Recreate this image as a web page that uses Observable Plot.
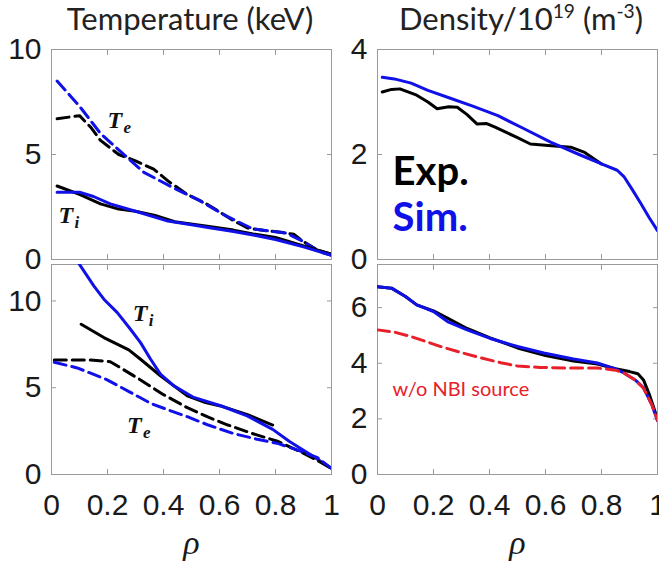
<!DOCTYPE html>
<html><head><meta charset="utf-8">
<script src="https://cdn.jsdelivr.net/npm/d3@7"></script>
<script src="https://cdn.jsdelivr.net/npm/@observablehq/plot@0.6"></script>
<style>
body{margin:0;background:#fff;}
#c{position:relative;width:659px;height:562px;overflow:hidden;background:#fff;}
#c svg{position:absolute;left:0;top:0;}
.title{position:absolute;top:3px;font-family:Lato,sans-serif;font-size:31px;color:#222;text-align:center;line-height:1;white-space:nowrap;width:320px}
.title sup{font-size:0.62em;vertical-align:0.6em;line-height:0}
[aria-label="x-axis label"] text{font-style:italic;font-family:"Liberation Serif",serif;font-size:34px}
</style></head><body><div id="c">
<div class="title" style="left:30px">Temperature (keV)</div>
<div class="title" style="left:361px">Density/10<sup>19</sup> (m<sup>-3</sup>)</div>
</div><script>
// ---- data ----
const xTicks = [0, 0.2, 0.4, 0.6, 0.8, 1];
const tlYTicks = [0, 5, 10];
const trYTicks = [0, 2, 4];
const blYTicks = [0, 5, 10];
const brYTicks = [0, 2, 4, 6];

// top-left: temperature (keV)
const tlTeSimRho = [0.02, 0.1, 0.175, 0.25, 0.33, 0.43, 0.53, 0.62, 0.72, 0.78, 0.84, 0.9, 0.95, 1.0];
const tlTeSimVal = [8.5, 7.3, 6.0, 5.1, 4.15, 3.45, 2.8, 2.1, 1.45, 1.35, 1.25, 0.85, 0.4, 0.2];
const tlTeExpRho = [0.02, 0.1, 0.14, 0.175, 0.24, 0.3, 0.365, 0.42, 0.485, 0.56, 0.65, 0.7, 0.76, 0.82, 0.865, 0.9, 0.95, 1.0];
const tlTeExpVal = [6.7, 6.85, 6.3, 5.67, 5.0, 4.7, 4.3, 3.7, 3.1, 2.6, 1.85, 1.5, 1.38, 1.3, 1.2, 0.85, 0.45, 0.25];
const tlTiExpRho = [0.02, 0.1, 0.175, 0.24, 0.3, 0.37, 0.44, 0.55, 0.65, 0.72, 0.8, 0.9, 1.0];
const tlTiExpVal = [3.5, 3.1, 2.65, 2.4, 2.3, 2.1, 1.8, 1.6, 1.4, 1.22, 1.05, 0.65, 0.25];
const tlTiSimRho = [0.02, 0.1, 0.15, 0.21, 0.3, 0.41, 0.5, 0.57, 0.65, 0.73, 0.8, 0.9, 1.0];
const tlTiSimVal = [3.2, 3.2, 3.0, 2.65, 2.3, 1.85, 1.65, 1.5, 1.33, 1.14, 0.95, 0.6, 0.2];

// top-right: density / 1e19 m^-3
const trSimRho = [0.017, 0.06, 0.12, 0.18, 0.25, 0.34, 0.43, 0.52, 0.62, 0.72, 0.8, 0.856, 0.88, 0.91, 0.94, 0.97, 1.0];
const trSimVal = [3.47, 3.44, 3.36, 3.22, 3.09, 2.92, 2.74, 2.5, 2.23, 2.0, 1.82, 1.7, 1.58, 1.33, 1.07, 0.8, 0.55];
const trExpRho = [0.017, 0.05, 0.08, 0.14, 0.18, 0.213, 0.255, 0.285, 0.32, 0.356, 0.39, 0.42, 0.46, 0.5, 0.546, 0.61, 0.69, 0.74, 0.8];
const trExpVal = [3.19, 3.24, 3.25, 3.13, 3.0, 2.87, 2.91, 2.9, 2.76, 2.58, 2.59, 2.52, 2.42, 2.32, 2.2, 2.17, 2.14, 2.04, 1.82];

// bottom-left: temperature (keV)
const blTiSimRho = [0.092, 0.151, 0.187, 0.235, 0.282, 0.318, 0.354, 0.389, 0.437, 0.508, 0.604, 0.699, 0.79, 0.85, 0.92, 1.0];
const blTiSimVal = [12.3, 10.87, 10.1, 9.33, 8.37, 7.6, 6.64, 5.78, 5.11, 4.44, 3.96, 3.38, 2.6, 1.9, 1.2, 0.35];
const blTiExpRho = [0.106, 0.187, 0.276, 0.318, 0.389, 0.485, 0.55, 0.604, 0.7, 0.79];
const blTiExpVal = [8.66, 7.89, 7.18, 6.64, 5.69, 4.53, 4.15, 3.95, 3.45, 2.85];
const blTeExpRho = [0.01, 0.14, 0.21, 0.318, 0.4, 0.485, 0.56, 0.63, 0.72, 0.81, 0.89, 0.95, 1.0];
const blTeExpVal = [6.6, 6.6, 6.5, 5.45, 4.6, 3.85, 3.3, 2.85, 2.35, 1.9, 1.3, 0.8, 0.35];
const blTeSimRho = [0.01, 0.092, 0.197, 0.28, 0.354, 0.42, 0.485, 0.56, 0.65, 0.73, 0.81, 0.88, 0.95, 1.0];
const blTeSimVal = [6.47, 6.14, 5.47, 4.75, 4.1, 3.7, 3.33, 2.85, 2.36, 2.05, 1.78, 1.4, 0.97, 0.35];

// bottom-right: density / 1e19 m^-3
const brExpRho = [0, 0.05, 0.1, 0.14, 0.2, 0.25, 0.32, 0.4, 0.5, 0.6, 0.7, 0.785, 0.85, 0.9, 0.93, 0.95, 0.97, 0.99, 1.0];
const brExpVal = [6.75, 6.7, 6.4, 6.1, 5.88, 5.62, 5.25, 4.92, 4.55, 4.28, 4.08, 3.97, 3.8, 3.7, 3.62, 3.4, 2.9, 2.3, 2.0];
const brSimRho = [0, 0.05, 0.1, 0.14, 0.2, 0.25, 0.32, 0.4, 0.5, 0.594, 0.7, 0.785, 0.85, 0.88, 0.92, 0.95, 0.98, 1.0];
const brSimVal = [6.75, 6.7, 6.4, 6.1, 5.86, 5.5, 5.2, 4.9, 4.6, 4.37, 4.15, 4.01, 3.8, 3.65, 3.4, 3.12, 2.5, 1.93];
const brNoNbiRho = [0, 0.06, 0.12, 0.226, 0.3, 0.37, 0.44, 0.5, 0.58, 0.667, 0.785, 0.85, 0.88, 0.92, 0.95, 0.98, 1.0];
const brNoNbiVal = [5.2, 5.12, 4.96, 4.6, 4.38, 4.19, 4.02, 3.9, 3.85, 3.83, 3.83, 3.75, 3.65, 3.4, 3.1, 2.5, 1.95];

// annotation anchors (data units)
const tlLabels = [{rho: 0.2, v: 6.24, main: "T", sub: "e"}, {rho: 0.025, v: 1.76, main: "T", sub: "i"}];
const blLabels = [{rho: 0.29, v: 8.84, main: "T", sub: "i"}, {rho: 0.27, v: 2.38, main: "T", sub: "e"}];
const trLegend = [{rho: 0.054, v: 1.41, t: "Exp.", c: "black"}, {rho: 0.054, v: 0.55, t: "Sim.", c: "sim"}];
const brNote = [{rho: 0.054, v: 2.82, t: "w/o NBI source"}];

// ---- drawing ----
const W = 659, H = 562;
const BLUE = "#1010e8", BLACK = "#000", RED = "#e8202a", GRID = "#9a9a9a", TXT = "#1a1a1a";
const toRows = (r, v) => r.map((d, i) => ({rho: d, v: v[i]}));
const solid = (r, v, c) => Plot.line(toRows(r, v), {x: "rho", y: "v", stroke: c, strokeWidth: 3, clip: true});
const dashed = (r, v, c) => Plot.line(toRows(r, v), {x: "rho", y: "v", stroke: c, strokeWidth: 3, strokeDasharray: "12,6", clip: true});
const tLabel = (data) => [
  Plot.text(data, {x: "rho", y: "v", text: "main", textAnchor: "start", lineAnchor: "bottom", fontFamily: "Liberation Serif, serif", fontWeight: "bold", fontStyle: "italic", fontSize: 24, fill: "#111"}),
  Plot.text(data, {x: "rho", y: "v", text: "sub", textAnchor: "start", lineAnchor: "bottom", dx: 16, dy: 5, fontFamily: "Liberation Serif, serif", fontWeight: "bold", fontStyle: "italic", fontSize: 17, fill: "#111"})
];

function panel({x0, x1, y0, y1, yDomain, yTicks, showX, marks}) {
  return Plot.plot({
    width: W, height: H,
    marginLeft: x0, marginRight: W - x1, marginTop: y0, marginBottom: H - y1,
    x: {domain: [0, 1]},
    y: {domain: yDomain},
    style: {background: "transparent", overflow: "visible", fontFamily: "Liberation Sans, Arial, sans-serif"},
    marks: [
      Plot.frame({stroke: GRID}),
      Plot.axisX(xTicks, {anchor: "bottom", tickSize: -5, tickPadding: 24, stroke: GRID, fill: showX ? TXT : "none", fontSize: 30, tickFormat: d => String(d), label: showX ? "ρ" : null, labelAnchor: "center", labelOffset: 79, labelArrow: "none"}),
      Plot.axisX(xTicks, {anchor: "top", tickSize: -5, stroke: GRID, fill: "none", label: null}),
      Plot.axisY(yTicks, {anchor: "left", tickSize: -5, tickPadding: 15, stroke: GRID, fill: TXT, fontSize: 30, tickFormat: d => String(d), label: null}),
      Plot.axisY(yTicks, {anchor: "right", tickSize: -5, stroke: GRID, fill: "none", label: null}),
      ...marks
    ]
  });
}

const c = document.getElementById("c");
c.appendChild(panel({x0: 51, x1: 331, y0: 49, y1: 259, yDomain: [0, 10], yTicks: tlYTicks, showX: false, marks: [
  dashed(tlTeExpRho, tlTeExpVal, BLACK),
  dashed(tlTeSimRho, tlTeSimVal, BLUE),
  solid(tlTiExpRho, tlTiExpVal, BLACK),
  solid(tlTiSimRho, tlTiSimVal, BLUE),
  ...tLabel(tlLabels)
]}));
c.appendChild(panel({x0: 377, x1: 657, y0: 49, y1: 259, yDomain: [0, 4], yTicks: trYTicks, showX: false, marks: [
  solid(trExpRho, trExpVal, BLACK),
  solid(trSimRho, trSimVal, BLUE),
  Plot.text(trLegend, {x: "rho", y: "v", text: "t", textAnchor: "start", lineAnchor: "bottom", fontFamily: "Lato, sans-serif", fontWeight: "bold", fontSize: 40, fill: d => d.c === "sim" ? BLUE : BLACK})
]}));
c.appendChild(panel({x0: 51, x1: 331, y0: 264, y1: 474, yDomain: [0, 12.1], yTicks: blYTicks, showX: true, marks: [
  solid(blTiExpRho, blTiExpVal, BLACK),
  solid(blTiSimRho, blTiSimVal, BLUE),
  dashed(blTeExpRho, blTeExpVal, BLACK),
  dashed(blTeSimRho, blTeSimVal, BLUE),
  ...tLabel(blLabels)
]}));
c.appendChild(panel({x0: 377, x1: 657, y0: 264, y1: 474, yDomain: [0, 7.55], yTicks: brYTicks, showX: true, marks: [
  solid(brExpRho, brExpVal, BLACK),
  solid(brSimRho, brSimVal, BLUE),
  dashed(brNoNbiRho, brNoNbiVal, RED),
  Plot.text(brNote, {x: "rho", y: "v", text: "t", textAnchor: "start", lineAnchor: "bottom", fontFamily: "Lato, sans-serif", fontSize: 20, fill: RED})
]}));
</script></body></html>
